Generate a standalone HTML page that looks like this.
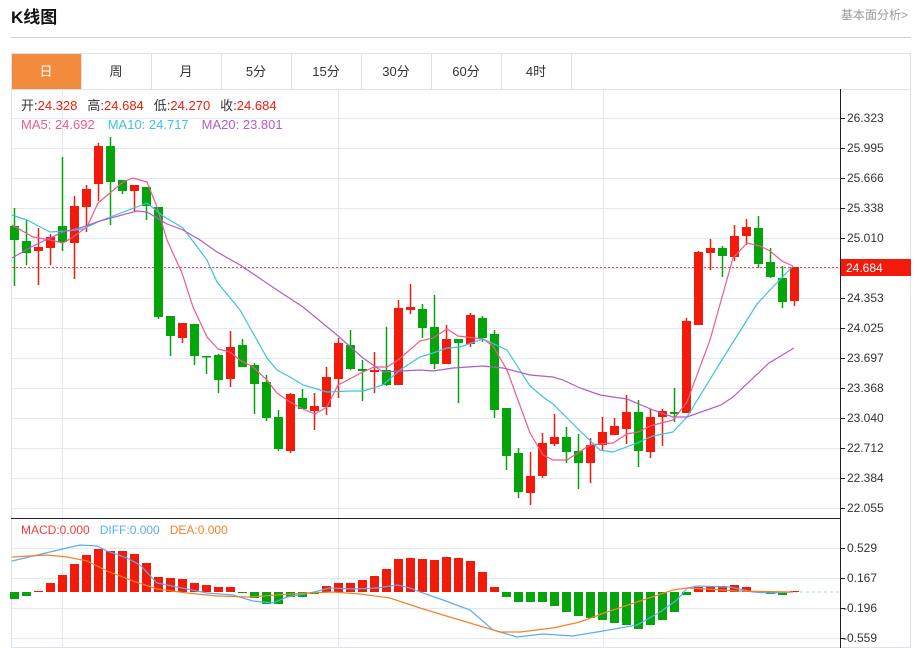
<!DOCTYPE html>
<html><head><meta charset="utf-8"><style>
html,body{margin:0;padding:0;background:#fff;width:919px;height:648px;overflow:hidden;font-family:"Liberation Sans","Noto Sans CJK SC",sans-serif}
</style></head><body>
<svg id="s" width="919" height="648" xmlns="http://www.w3.org/2000/svg" font-family="Liberation Sans, Noto Sans CJK SC, sans-serif">
<text x="11" y="23" font-size="17" font-weight="bold" fill="#111">K线图</text>
<text x="908" y="19" font-size="12" fill="#999" text-anchor="end">基本面分析&gt;</text>
<line x1="11" y1="37.5" x2="911" y2="37.5" stroke="#d0d0d0"/>
<rect x="11.5" y="53.5" width="899" height="594" fill="none" stroke="#dde3ea"/>
<line x1="11" y1="89.5" x2="911" y2="89.5" stroke="#dde3ea"/>
<rect x="12" y="54" width="69" height="35" fill="#f28c3c"/>
<g stroke="#dde3ea"><line x1="81.5" y1="54" x2="81.5" y2="89"/><line x1="151.5" y1="54" x2="151.5" y2="89"/><line x1="221.5" y1="54" x2="221.5" y2="89"/><line x1="291.5" y1="54" x2="291.5" y2="89"/><line x1="361.5" y1="54" x2="361.5" y2="89"/><line x1="431.5" y1="54" x2="431.5" y2="89"/><line x1="501.5" y1="54" x2="501.5" y2="89"/><line x1="571.5" y1="54" x2="571.5" y2="89"/></g>
<g font-size="13" text-anchor="middle" fill="#333"><text x="46" y="76" fill="#fff">日</text><text x="116" y="76">周</text><text x="186" y="76">月</text><text x="256" y="76">5分</text><text x="326" y="76">15分</text><text x="396" y="76">30分</text><text x="466" y="76">60分</text><text x="536" y="76">4时</text></g>
<g id="grid" stroke="#e2e9f0"></g>
<g id="plot"></g>
<line x1="840.5" y1="89" x2="840.5" y2="648" stroke="#222"/>
<line x1="11" y1="518.5" x2="840" y2="518.5" stroke="#222"/>
<g id="ax" font-size="12" fill="#333"></g>
<rect x="841" y="259" width="70" height="17" fill="#f21b0b"/>
<text x="846" y="272" font-size="12" fill="#fff">24.684</text>
<g font-size="13"><text x="21" y="110"><tspan fill="#333">开:</tspan><tspan fill="#f21b0b">24.328</tspan><tspan fill="#333" dx="10">高:</tspan><tspan fill="#f21b0b">24.684</tspan><tspan fill="#333" dx="10">低:</tspan><tspan fill="#f21b0b">24.270</tspan><tspan fill="#333" dx="10">收:</tspan><tspan fill="#f21b0b">24.684</tspan></text>
<text x="21" y="129"><tspan fill="#ef5a8c">MA5: 24.692</tspan><tspan fill="#3cc4dc" dx="13">MA10: 24.717</tspan><tspan fill="#b35bcc" dx="13">MA20: 23.801</tspan></text>
<text x="21" y="534" font-size="12"><tspan fill="#f03c3c">MACD:0.000</tspan><tspan fill="#5aacf0" dx="10">DIFF:0.000</tspan><tspan fill="#f5822a" dx="10">DEA:0.000</tspan></text></g>
</svg>
<script>
var NS="http://www.w3.org/2000/svg";
function el(p,t,a){var e=document.createElementNS(NS,t);for(var k in a)e.setAttribute(k,a[k]);document.getElementById(p).appendChild(e);return e;}
for(var y=118;y<=508;y+=30)el("grid","line",{x1:12,y1:y+.5,x2:840,y2:y+.5});
[548,578,608,638].forEach(function(y){el("grid","line",{x1:12,y1:y+.5,x2:840,y2:y+.5});});
[62,338,603].forEach(function(x){el("grid","line",{x1:x+.5,y1:90,x2:x+.5,y2:648});});
var pl=["26.323","25.995","25.666","25.338","25.010","","24.353","24.025","23.697","23.368","23.040","22.712","22.384","22.055"];
pl.forEach(function(t,i){var y=118+30*i;if(!t)return;el("ax","line",{x1:840,y1:y+.5,x2:845,y2:y+.5,stroke:"#222"});var e=el("ax","text",{x:847,y:y+4});e.textContent=t;});
[["0.529",548],["0.167",578],["-0.196",608],["-0.559",638]].forEach(function(a){el("ax","line",{x1:840,y1:a[1]+.5,x2:845,y2:a[1]+.5,stroke:"#222"});var e=el("ax","text",{x:a[0][0]=="-"?843:847,y:a[1]+4});e.textContent=a[0];});
el("plot","line",{x1:12,y1:267.5,x2:840,y2:267.5,stroke:"#e05050","stroke-dasharray":"2,2"});
el("plot","line",{x1:794,y1:592,x2:840,y2:592,stroke:"#9ed8f0","stroke-dasharray":"3,3"});
// candles: [oTop,oBot,hi,lo,color]
var C=[[226,240,208,286,'g'],[241,253,220,265,'g'],[247,251,228,285,'r'],[237,248,234,265,'r'],[226,242,157,251,'g'],[206,243,196,279,'r'],[189,207,185,232,'r'],[146,184,143,201,'r'],[146,182,137,225,'g'],[180,191,180,194,'g'],[185,191,185,211,'r'],[187,206,187,220,'g'],[207,317,207,319,'g'],[316,336,316,356,'g'],[323,338,323,343,'r'],[324,356,324,365,'g'],[356,357,356,374,'g'],[355,380,354,393,'g'],[347,379,331,387,'r'],[345,367,339,367,'g'],[365,384,363,414,'g'],[382,418,375,421,'g'],[417,449,410,451,'g'],[394,451,393,453,'r'],[398,409,389,409,'g'],[406,411,393,430,'r'],[377,407,367,415,'r'],[343,379,338,398,'r'],[345,369,330,370,'g'],[369,371,360,401,'g'],[370,372,352,393,'r'],[370,385,327,386,'g'],[308,385,300,385,'r'],[307,310,284,314,'r'],[309,328,304,338,'g'],[327,364,295,369,'g'],[339,364,325,364,'r'],[339,343,339,403,'g'],[315,344,313,347,'r'],[318,338,316,342,'g'],[334,410,330,418,'g'],[408,456,408,470,'g'],[453,492,448,498,'g'],[476,493,452,505,'r'],[443,476,433,478,'r'],[437,444,414,446,'r'],[437,452,427,463,'g'],[451,463,434,489,'g'],[445,463,438,483,'r'],[432,445,417,450,'r'],[426,435,418,435,'r'],[412,429,395,444,'r'],[412,451,400,467,'g'],[417,452,409,458,'r'],[411,417,409,446,'r'],[412,414,388,422,'g'],[321,413,318,413,'r'],[252,325,251,325,'r'],[248,253,239,270,'r'],[248,256,246,277,'g'],[236,257,225,261,'r'],[227,236,219,245,'r'],[228,264,216,268,'g'],[262,277,248,278,'g'],[278,302,266,308,'g'],[267,301,267,306,'r']];
var M=[599,596,591,583,575,564,555,549,551,551,554,563,577,578,579,583,585,587,587,593,598,604,604,597,597,594,586,583,583,580,576,569,559,558,559,560,557,558,561,572,587,597,602,602,602,606,612,616,618,620,623,625,629,625,620,612,595,587,586,586,585,587,591,594,595,591];
var R="#f21b0b",G="#03a50a";
C.forEach(function(c,i){var x=14+12*i;var col=c[4]=='r'?R:G;
el("plot","line",{x1:x+.5,y1:c[2],x2:x+.5,y2:c[3],stroke:col,"stroke-width":1.5});
el("plot","rect",{x:x-4,y:c[0],width:9,height:Math.max(1.5,c[1]-c[0]),fill:col});
var m=M[i];var top=Math.min(m,592),h=Math.max(1,Math.abs(m-592));
el("plot","rect",{x:x-4,y:top,width:9,height:h,fill:m<592?R:G});});
function pl2(pts,col){el("plot","polyline",{points:pts.map(function(p){return p.join(",")}).join(" "),fill:"none",stroke:col,"stroke-width":1.2});}
pl2([[12,225],[33,237],[50,240],[63,243],[73,237],[87,227],[98,203],[123,182],[133,178],[147,182],[157,207],[167,240],[182,273],[193,307],[207,337],[218,349],[230,352],[240,360],[253,367],[267,380],[277,393],[290,402],[303,409],[315,414],[327,407],[338,385],[363,372],[374,367],[387,367],[398,360],[420,341],[433,338],[447,329],[458,336],[483,339],[493,346],[507,370],[530,433],[543,455],[553,460],[567,460],[590,445],[600,444],[613,443],[627,434],[638,432],[650,426],[673,420],[687,402],[710,340],[733,258],[747,243],[760,246],[770,251],[782,261],[793,266]],"#ef5a8c");
pl2([[12,215],[27,220],[50,232],[67,231],[83,229],[100,221],[147,203],[163,216],[183,228],[207,260],[217,282],[240,310],[267,358],[277,370],[290,377],[303,385],[327,392],[350,391],[363,391],[383,385],[400,370],[420,357],[433,353],[447,348],[460,347],[483,339],[507,350],[530,386],[543,397],[553,404],[577,428],[600,450],[613,452],[637,443],[653,436],[673,432],[687,417],[720,363],[757,304],[770,290],[793,266]],"#3cc4dc");
pl2([[12,258],[33,246],[63,232],[83,227],[100,221],[137,211],[147,212],[167,224],[183,230],[200,240],[217,252],[240,265],[277,290],[303,307],[337,335],[363,358],[383,372],[420,370],[433,371],[453,368],[483,366],[503,368],[530,375],[553,377],[563,380],[580,388],[600,395],[613,397],[627,399],[653,410],[673,417],[687,417],[721,405],[733,397],[769,363],[794,348]],"#b35bcc");
pl2([[12,561],[33,556],[67,548],[80,545],[97,546],[107,551],[127,558],[140,565],[157,583],[187,589],[207,593],[233,595],[253,601],[273,603],[287,597],[310,593],[330,588],[353,589],[377,588],[397,585],[410,588],[420,592],[443,600],[470,610],[493,630],[517,637],[543,634],[573,636],[603,631],[637,625],[660,612],[677,600],[687,588],[697,586],[730,587],[753,592],[770,593],[793,592]],"#5aacf0");
pl2([[12,557],[47,555],[67,557],[87,561],[107,571],[133,581],[157,589],[187,593],[217,596],[250,597],[277,595],[307,593],[333,592],[360,594],[390,598],[420,608],[453,618],[500,632],[520,632],[553,628],[580,622],[607,612],[637,602],[673,590],[687,588],[707,589],[737,591],[793,592]],"#f5822a");
</script>
</body></html>
